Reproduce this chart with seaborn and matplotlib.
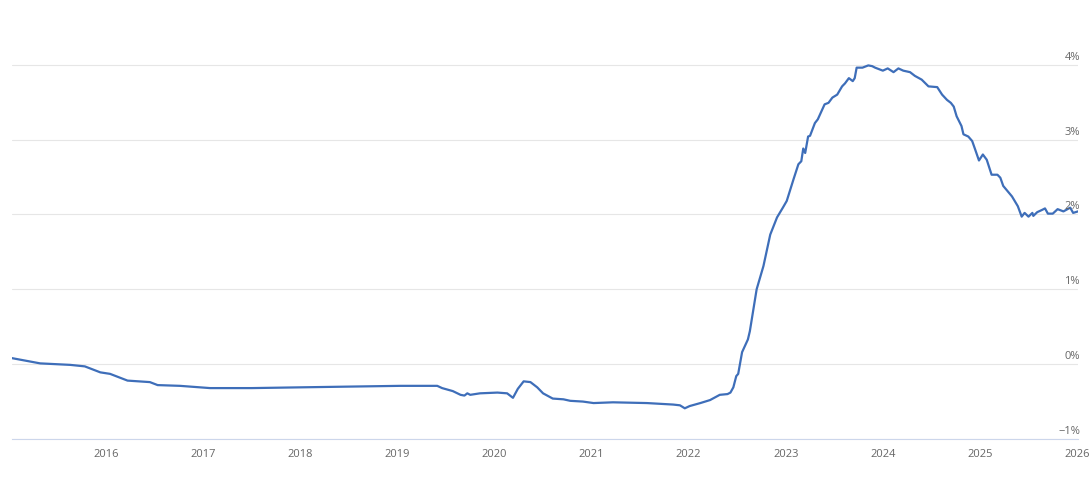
import matplotlib
matplotlib.use("Agg")
import matplotlib.pyplot as plt
import matplotlib.transforms as mtransforms
import seaborn as sns
import pandas as pd

# weekly-ish readings, decimal year -> rate in %
anos = [2015.03, 2015.32, 2015.63, 2015.78, 2015.94, 2016.04, 2016.22, 2016.45, 2016.53, 2016.76,
        2017.07, 2017.5, 2018.0, 2018.51, 2019.03, 2019.41, 2019.46, 2019.57, 2019.65, 2019.69,
        2019.72, 2019.75, 2019.85, 2020.03, 2020.13, 2020.19, 2020.24, 2020.30, 2020.37, 2020.44,
        2020.50, 2020.60, 2020.71, 2020.78, 2020.91, 2021.02, 2021.22, 2021.57, 2021.84, 2021.91,
        2021.96, 2022.01, 2022.12, 2022.22, 2022.32, 2022.40, 2022.43, 2022.46, 2022.49, 2022.51,
        2022.55, 2022.61, 2022.63, 2022.70, 2022.77, 2022.84, 2022.91, 2022.97, 2023.01, 2023.08,
        2023.13, 2023.16, 2023.18, 2023.20, 2023.23, 2023.25, 2023.30, 2023.33, 2023.40, 2023.44,
        2023.48, 2023.53, 2023.58, 2023.61, 2023.65, 2023.69, 2023.71, 2023.73, 2023.79, 2023.85,
        2023.89, 2023.92, 2024.00, 2024.05, 2024.11, 2024.16, 2024.21, 2024.28, 2024.33, 2024.40,
        2024.47, 2024.56, 2024.61, 2024.66, 2024.70, 2024.73, 2024.76, 2024.81, 2024.83, 2024.88,
        2024.92, 2024.95, 2024.99, 2025.03, 2025.07, 2025.12, 2025.18, 2025.21, 2025.24, 2025.33,
        2025.39, 2025.43, 2025.46, 2025.50, 2025.54, 2025.55, 2025.59, 2025.64, 2025.67, 2025.70,
        2025.75, 2025.80, 2025.86, 2025.93, 2025.96, 2026.01]

taxa = [0.08, 0.01, -0.01, -0.03, -0.11, -0.13, -0.22, -0.24, -0.28, -0.29,
        -0.32, -0.32, -0.31, -0.30, -0.29, -0.29, -0.32, -0.36, -0.41, -0.42,
        -0.39, -0.41, -0.39, -0.38, -0.39, -0.45, -0.33, -0.23, -0.24, -0.31,
        -0.39, -0.46, -0.47, -0.49, -0.50, -0.52, -0.51, -0.52, -0.54, -0.55,
        -0.59, -0.56, -0.52, -0.48, -0.41, -0.40, -0.38, -0.31, -0.16, -0.13,
        0.16, 0.33, 0.44, 1.00, 1.31, 1.73, 1.96, 2.09, 2.18, 2.47,
        2.67, 2.71, 2.88, 2.82, 3.04, 3.05, 3.22, 3.27, 3.47, 3.49,
        3.56, 3.60, 3.71, 3.75, 3.82, 3.78, 3.82, 3.96, 3.96, 3.99,
        3.98, 3.96, 3.92, 3.95, 3.90, 3.95, 3.92, 3.90, 3.85, 3.80,
        3.71, 3.70, 3.60, 3.53, 3.49, 3.44, 3.31, 3.18, 3.07, 3.04,
        2.98, 2.87, 2.72, 2.80, 2.73, 2.53, 2.53, 2.49, 2.38, 2.24,
        2.11, 1.97, 2.02, 1.97, 2.02, 1.98, 2.03, 2.06, 2.08, 2.01,
        2.01, 2.07, 2.04, 2.09, 2.02, 2.04]

anos_ticks = list(range(2016, 2027))
niveis_y = [-1, 0, 1, 2, 3, 4]
rotulos_y = ["\u22121%", "0%", "1%", "2%", "3%", "4%"]

sns.set_style("white")
plt.rcParams["font.family"] = ["Open Sans", "DejaVu Sans"]

df = pd.DataFrame({"ano": anos, "taxa": taxa})

fig = plt.figure(figsize=(10.9, 4.83), dpi=100)
ax = fig.add_axes([12 / 1090, 1 - 439 / 483, 1066 / 1090, 423 / 483])

sns.lineplot(data=df, x="ano", y="taxa", ax=ax, color="#3e6eb9", linewidth=1.6)

ax.set_xlim(2015.03, 2026.01)
ax.set_ylim(-1, 4.65)
ax.set_xlabel("")
ax.set_ylabel("")

# grade horizontal
ax.set_yticks(niveis_y)
ax.set_yticklabels([])
ax.tick_params(axis="y", length=0)
ax.grid(axis="y", color="#e6e6e6", linewidth=0.8)
ax.grid(axis="x", visible=False)

for lado in ["top", "left", "right"]:
    ax.spines[lado].set_visible(False)
ax.spines["bottom"].set_color("#ccd6eb")
ax.spines["bottom"].set_linewidth(0.8)

ax.set_xticks(anos_ticks)
ax.set_xticklabels([str(a) for a in anos_ticks])
ax.tick_params(axis="x", direction="out", length=5.8, width=0.8, color="#ccd6eb",
               labelcolor="#666666", labelsize=8, pad=1.5)

# rótulos do eixo y por dentro, à direita, acima das linhas
trans = mtransforms.blended_transform_factory(ax.transAxes, ax.transData)
for v, rot in zip(niveis_y, rotulos_y):
    ax.annotate(rot, xy=(1, v), xycoords=trans, xytext=(2, 2), textcoords="offset pixels",
                ha="right", va="bottom", fontsize=8, color="#666666")

fig.savefig("out.png", dpi=100)
plt.close(fig)
